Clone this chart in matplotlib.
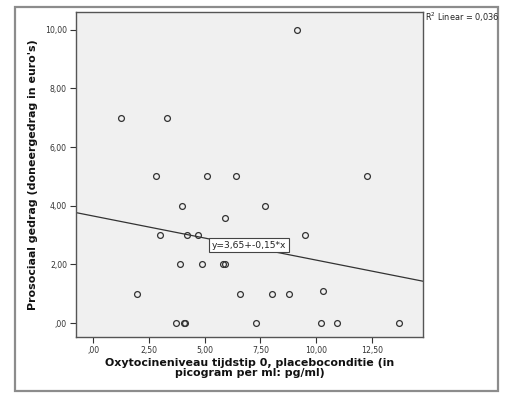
import numpy as np
import matplotlib
matplotlib.use("Agg")
import matplotlib.pyplot as plt
from matplotlib.patches import Rectangle

# Values
oxy = [9.13, 1.24, 3.30, 2.79, 5.10, 6.40, 12.30, 4.00, 5.91, 3.00,
       4.20, 4.71, 7.71, 9.52, 3.90, 4.90, 5.82, 5.92, 1.97, 6.59,
       8.03, 8.80, 10.31, 3.69, 4.06, 4.11, 7.31, 10.20, 10.93, 13.72]
prosociaal = [10, 7, 7, 5, 5, 5, 5, 4, 3.57, 3,
              3, 3, 4, 3, 2, 2, 2, 2, 1, 1,
              1, 1, 1.1, 0, 0, 0, 0, 0, 0, 0]
intercept = 3.65
slope = -0.15
r2 = 0.036

xticks = [0, 2.5, 5, 7.5, 10, 12.5]
yticks = [0, 2, 4, 6, 8, 10]


def nl(v, d=2):
    s = f"{v:.{d}f}".replace(".", ",")
    return s[1:] if s.startswith("0,") and d == 2 else s


plt.rcParams['font.family'] = 'DejaVu Sans'

fig = plt.figure(figsize=(5.09, 3.94), dpi=100)
fig.patch.set_facecolor('white')
fig.patches.append(Rectangle((0.0295, 0.008), 0.949, 0.974, transform=fig.transFigure,
                             fill=False, edgecolor='#8c8c8c', linewidth=1.6))

ax = fig.add_axes([0.1493, 0.1447, 0.6817, 0.8248])
ax.set_facecolor('#f0f0f0')

xlim = (-0.78, 14.8)
ylim = (-0.47, 10.6)
ax.set_xlim(*xlim)
ax.set_ylim(*ylim)

ax.plot(oxy, prosociaal, 'o', markersize=4.2, markerfacecolor='none',
        markeredgecolor='#333333', markeredgewidth=0.9)

xl = np.array(xlim)
ax.plot(xl, intercept + slope * xl, color='#333333', linewidth=0.9)

ax.text(6.98, 2.65, f"y={nl(intercept)}+{nl(slope)}*x", fontsize=6.6,
        ha='center', va='center', color='#222222',
        bbox=dict(boxstyle='square,pad=0.28', facecolor='white', edgecolor='#444444', linewidth=0.8))

ax.set_xticks(xticks)
ax.set_xticklabels([nl(v) for v in xticks])
ax.set_yticks(yticks)
ax.set_yticklabels([nl(v) for v in yticks])
ax.tick_params(axis='both', labelsize=5.6, colors='#333333', length=4, width=0.8,
               direction='out', pad=2.5)
for s in ax.spines.values():
    s.set_color('#555555')
    s.set_linewidth(1.0)

ax.set_xlabel("Oxytocineniveau tijdstip 0, placeboconditie (in\npicogram per ml: pg/ml)",
              fontsize=7.9, fontweight='bold', linespacing=0.95, labelpad=2.5, color='#111111')
ax.set_ylabel("Prosociaal gedrag (doneergedrag in euro's)", fontsize=7.9,
              fontweight='bold', labelpad=5, color='#111111')

fig.text(0.834, 0.957, f"R$^2$ Linear = {nl(r2, 3)}", fontsize=5.9,
         ha='left', va='center', color='#222222')

fig.savefig("out.png", dpi=100)
